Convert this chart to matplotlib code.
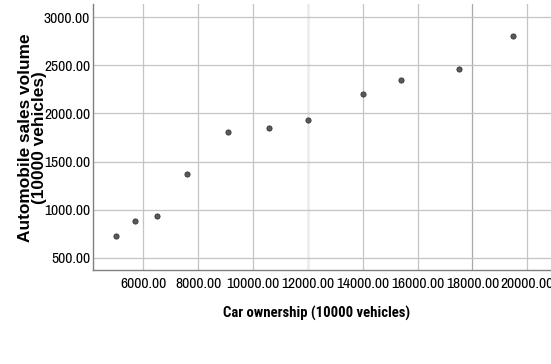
import matplotlib
matplotlib.use('Agg')
import matplotlib.pyplot as plt

car_ownership = [5005, 5698, 6499, 7600, 9093, 10583, 12000, 14015, 15410, 17508, 19490]
sales_volume = [723, 878, 938, 1372, 1806, 1850, 1930, 2197, 2346, 2463, 2802]
x_ticks = [6000, 8000, 10000, 12000, 14000, 16000, 18000, 20000]
y_ticks = [500, 1000, 1500, 2000, 2500, 3000]

narrow = ['Archivo Narrow', 'DejaVu Sans']
narrow_bold = ['Roboto Condensed', 'Barlow Semi Condensed', 'DejaVu Sans']
wide = ['Liberation Sans', 'DejaVu Sans']

fig = plt.figure(figsize=(5.51, 3.64), dpi=100)
ax = fig.add_axes([93 / 551, 1 - 270 / 364, 1 - 93 / 551, 266 / 364])

ax.scatter(car_ownership, sales_volume, s=14, color='#5a5a5a', edgecolor='#333333', linewidth=0.6, zorder=3)

ax.set_xlim(4167, 20863)
ax.set_ylim(372, 3138)
ax.set_xticks(x_ticks)
ax.set_yticks(y_ticks)
ax.set_xticklabels([f'{v:.2f}' for v in x_ticks], family=narrow, fontsize=11.2)
ax.set_yticklabels([f'{v:.2f}' for v in y_ticks], family=narrow, fontsize=11.2)
ax.tick_params(axis='x', length=0, pad=5, colors='black')
ax.tick_params(axis='y', length=0, pad=2, colors='black')

ax.grid(True, color='#c4c4c4', linewidth=0.9)
ax.set_axisbelow(True)
# SPSS-like uneven grid shades
xg = ax.get_xgridlines()
xg[3].set_color('#ebebeb')
xg[3].set_linewidth(1.8)
xg[6].set_color('#a8a8a8')

for s in ['top', 'right']:
    ax.spines[s].set_visible(False)
for s in ['left', 'bottom']:
    ax.spines[s].set_color('#808080')
    ax.spines[s].set_linewidth(1.0)

ax.set_xlabel('Car ownership (10000 vehicles)', family=narrow_bold, fontweight='bold', fontsize=10.6)
ax.xaxis.set_label_coords(0.489, -0.135)
ax.set_ylabel('Automobile sales volume\n(10000 vehicles)', family=wide, fontweight='bold', fontsize=12.4, linespacing=0.9)
ax.yaxis.set_label_coords(-0.101, 0.496)

plt.savefig('out.png', dpi=100)
plt.close()
